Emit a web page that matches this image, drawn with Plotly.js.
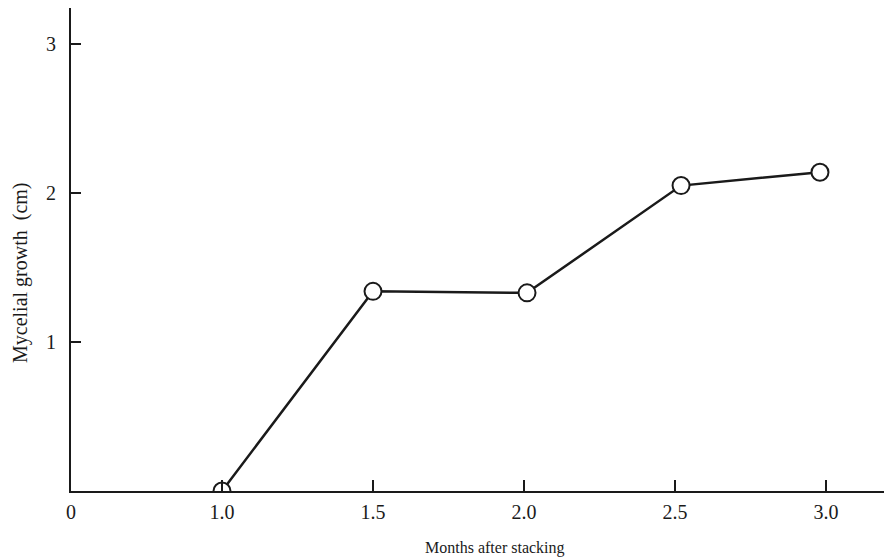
<!DOCTYPE html>
<html>
<head>
<meta charset="utf-8">
<script src="https://cdn.plot.ly/plotly-3.0.1.min.js"></script>
<style>
  html, body { margin: 0; padding: 0; background: #fff; }
  #chart { width: 887px; height: 560px; }
</style>
</head>
<body>
<div id="chart"></div>
<script>
// Data
var months = [1.0, 1.5, 2.01, 2.52, 2.98];
var growthCm = [0, 1.34, 1.33, 2.05, 2.14];

// Axis tick values / labels (axis starts at a broken "0")
var xTickVals = [0.5, 1.0, 1.5, 2.0, 2.5, 3.0];
var xTickText = ['0', '1.0', '1.5', '2.0', '2.5', '3.0'];
var yTickVals = [1, 2, 3];
var yTickText = ['1', '2', '3'];

var xTitle = 'Months after stacking';
var yTitle = 'Mycelial growth  (cm)';

var serif = '"Liberation Serif", "DejaVu Serif", "Times New Roman", serif';
var ink = '#1a1a1a';

var trace = {
  x: months,
  y: growthCm,
  type: 'scatter',
  mode: 'lines+markers',
  line: { color: ink, width: 2.5 },
  marker: { size: 17, color: '#ffffff', line: { color: ink, width: 2 } },
  cliponaxis: true,
  hoverinfo: 'x+y'
};

var layout = {
  width: 887,
  height: 560,
  margin: { l: 71, r: 3, t: 8, b: 69 },
  paper_bgcolor: '#ffffff',
  plot_bgcolor: '#ffffff',
  showlegend: false,
  font: { family: serif, color: ink, size: 18 },
  xaxis: {
    range: [0.5, 3.192],
    tickmode: 'array',
    tickvals: xTickVals,
    ticktext: xTickText,
    ticks: 'inside',
    ticklen: 11,
    tickwidth: 1.5,
    tickcolor: ink,
    showline: true,
    linecolor: ink,
    linewidth: 1.8,
    showgrid: false,
    zeroline: false,
    tickfont: { family: serif, size: 20, color: ink },
    ticklabelstandoff: 2,
    layer: 'above traces'
  },
  yaxis: {
    range: [0, 3.242],
    tickmode: 'array',
    tickvals: yTickVals,
    ticktext: yTickText,
    ticks: 'inside',
    ticklen: 10,
    tickwidth: 1.5,
    tickcolor: ink,
    showline: true,
    linecolor: ink,
    linewidth: 2,
    showgrid: false,
    zeroline: false,
    tickfont: { family: serif, size: 20, color: ink },
    ticklabelstandoff: 9,
    layer: 'above traces'
  },
  annotations: [
    {
      text: xTitle,
      xref: 'paper', yref: 'paper',
      x: (495 - 71) / 813, y: -0.118,
      xanchor: 'center', yanchor: 'middle',
      showarrow: false,
      font: { family: serif, size: 16, color: ink }
    },
    {
      text: yTitle,
      xref: 'paper', yref: 'paper',
      x: (20 - 71) / 813, y: (491 - 273) / 483,
      xanchor: 'center', yanchor: 'middle',
      textangle: -90,
      showarrow: false,
      font: { family: serif, size: 20, color: ink }
    }
  ]
};

Plotly.newPlot('chart', [trace], layout, { displayModeBar: false, staticPlot: true });
</script>
</body>
</html>
